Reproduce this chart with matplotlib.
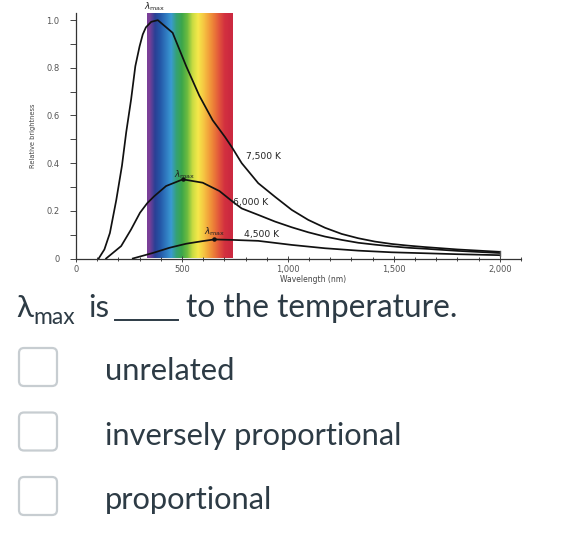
"""Blackbody curves quiz card: relative brightness vs wavelength, plus the question."""

import matplotlib

matplotlib.use("Agg")

import matplotlib.pyplot as plt
import numpy as np
from matplotlib.lines import Line2D
from matplotlib.patches import FancyBboxPatch
from matplotlib.ticker import MultipleLocator

# curve readings (wavelength in nm, relative brightness)
WL_7500 = [107, 134, 160, 190, 217, 237, 260, 280, 300, 315, 330, 355, 386, 456, 520,
           582, 645, 703, 737, 782, 860, 939, 1018, 1096, 1175, 1254, 1332, 1411, 1490,
           1568, 1647, 1800, 2000]
BR_7500 = [0.0, 0.038, 0.107, 0.245, 0.39, 0.53, 0.667, 0.807, 0.89, 0.94, 0.97, 0.993,
           1.0, 0.947, 0.807, 0.683, 0.58, 0.51, 0.465, 0.40, 0.316, 0.259, 0.204, 0.162,
           0.129, 0.103, 0.085, 0.071, 0.061, 0.054, 0.048, 0.038, 0.028]
WL_6000 = [142, 213, 260, 302, 336, 370, 425, 504, 598, 677, 740, 782, 860, 939, 1018,
           1096, 1175, 1254, 1332, 1411, 1490, 1568, 1647, 1800, 2000]
BR_6000 = [0.0, 0.052, 0.122, 0.192, 0.232, 0.262, 0.304, 0.332, 0.318, 0.283, 0.238,
           0.21, 0.183, 0.155, 0.131, 0.11, 0.092, 0.078, 0.066, 0.058, 0.051, 0.045,
           0.041, 0.032, 0.023]
WL_4500 = [268, 362, 441, 520, 598, 653, 740, 860, 1018, 1175, 1332, 1490, 1647, 1800, 2000]
BR_4500 = [0.0, 0.023, 0.045, 0.062, 0.073, 0.080, 0.078, 0.074, 0.057, 0.043, 0.033,
           0.026, 0.022, 0.018, 0.014]
PEAKS_WL = [504, 653]
PEAKS_BR = [0.332, 0.080]

CURVE_LABELS = ["7,500 K", "6,000 K", "4,500 K"]
CURVE_LABEL_POS = [(800, 0.426), (741, 0.237), (793, 0.099)]

VISIBLE = (334, 738)
BAND_COLORS = ["#7a3f98", "#2b3f95", "#2458a8", "#2f78bf", "#3a9ad2", "#35a275",
               "#3ca64a", "#6cbb3f", "#c9dc42", "#f5e84a", "#f6c843", "#f2a13b",
               "#eb7a38", "#e0523c", "#d2303f", "#cc2a40"]

X_TICKS = [0, 500, 1000, 1500, 2000]
X_TICK_LABELS = ["0", "500", "1,000", "1,500", "2,000"]
Y_TICKS = [0, 0.2, 0.4, 0.6, 0.8, 1.0]
Y_TICK_LABELS = ["0", "0.2", "0.4", "0.6", "0.8", "1.0"]

QUESTION_TAIL = "to the temperature."
OPTIONS = ["unrelated", "inversely proportional", "proportional"]

W, H = 570, 550
TEXT = "#2d3b45"
TICK = "#555555"
TEXT_FONT = ["Lato", "DejaVu Sans"]

fig = plt.figure(figsize=(W / 100, H / 100), dpi=100)
fig.patch.set_facecolor("white")

# chart axes: x=0 at px 76, x=2100 at px 521; y=0 at px 258.5, 1.03 at px 13
ax = fig.add_axes([76 / W, 1 - 258.5 / H, (521 - 76) / W, (258.5 - 13) / H])
ax.set_xlim(0, 2100)
ax.set_ylim(0, 1.03)
ax.patch.set_alpha(0)

rgb = np.array([matplotlib.colors.to_rgb(c) for c in BAND_COLORS])[None, :, :]
ax.imshow(rgb, extent=(VISIBLE[0], VISIBLE[1], 0, 1.026), aspect="auto",
          interpolation="bilinear", zorder=1)

for wl, br in [(WL_7500, BR_7500), (WL_6000, BR_6000), (WL_4500, BR_4500)]:
    ax.plot(wl, br, color="#111111", lw=1.25, solid_joinstyle="round", zorder=3)
ends = [BR_7500[-1], BR_6000[-1], BR_4500[-1]]
ax.plot([WL_7500[-1]] * 2, [min(ends) - 0.004, max(ends) + 0.004], color="#555555",
        lw=1.0, zorder=3)
ax.plot(PEAKS_WL, PEAKS_BR, "o", color="#111111", ms=2.2, zorder=4)

for label, (x, y) in zip(CURVE_LABELS, CURVE_LABEL_POS):
    ax.text(x, y, label, fontsize=6.6, color="#222222", va="center", ha="left", zorder=5)
lam = r"$\lambda_{\rm max}$"
ax.text(373, 1.055, lam, fontsize=6.5, color="#222222", ha="center", va="center",
        clip_on=False)
ax.text(512, 0.352, lam, fontsize=6.5, color="#222222", ha="center", va="center", zorder=5)
ax.text(656, 0.112, lam, fontsize=6.5, color="#222222", ha="center", va="center", zorder=5)

for side in ("top", "right"):
    ax.spines[side].set_visible(False)
for side in ("left", "bottom"):
    ax.spines[side].set_color("#333333")
    ax.spines[side].set_linewidth(0.9)
ax.set_xticks(X_TICKS, X_TICK_LABELS)
ax.set_yticks(Y_TICKS, Y_TICK_LABELS)
ax.xaxis.set_minor_locator(MultipleLocator(100))
ax.yaxis.set_minor_locator(MultipleLocator(0.1))
ax.tick_params(axis="x", which="both", direction="inout", length=4, width=0.7,
               color="#444444", labelsize=6, labelcolor=TICK, pad=2.5)
ax.tick_params(axis="y", which="both", direction="out", length=4, width=0.7,
               color="#444444", labelsize=6, labelcolor=TICK, pad=8)
ax.tick_params(axis="x", which="minor", length=2.5)

# overlay in pixel coordinates for the rest of the card
ov = fig.add_axes([0, 0, 1, 1], zorder=-1)
ov.set_xlim(0, W)
ov.set_ylim(H, 0)
ov.axis("off")

ov.text(33, 136, "Relative brightness", rotation=90, fontsize=4.8, color="#444444",
        ha="center", va="center", family=["Liberation Sans Narrow", "DejaVu Sans"])
ov.text(313, 279, "Wavelength (nm)", fontsize=5.5, color="#444444", ha="center",
        va="center")

ov.text(16, 317, "λ", fontsize=22.5, color=TEXT, family=TEXT_FONT, va="baseline")
ov.text(33, 324, "max", fontsize=16.5, color=TEXT, family=TEXT_FONT, va="baseline")
ov.text(88, 317, "is", fontsize=22.5, color=TEXT, family=TEXT_FONT, va="baseline")
ov.add_line(Line2D([115, 178], [320, 320], color=TEXT, lw=1.4))
ov.text(186, 317, QUESTION_TAIL, fontsize=22.8, color=TEXT, family=TEXT_FONT,
        va="baseline")

for i, option in enumerate(OPTIONS):
    top = 348 + i * 64.5
    ov.add_patch(FancyBboxPatch((19, top), 38, 38, boxstyle="round,pad=0,rounding_size=5",
                                facecolor="white", edgecolor="#c7cdd1", lw=1.6))
    ov.text(105, top + 32, option, fontsize=22.2, color=TEXT, family=TEXT_FONT,
            va="baseline")

fig.savefig("out.png", dpi=100, facecolor="white")
